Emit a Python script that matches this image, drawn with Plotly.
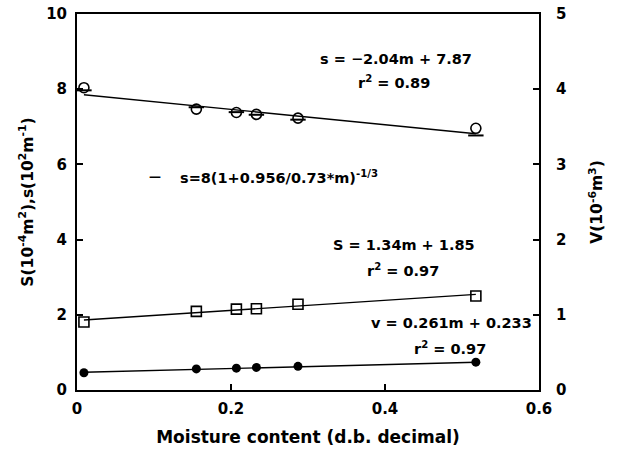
import plotly.graph_objects as go

# ---- data ----
moisture = [0.009, 0.155, 0.207, 0.233, 0.287, 0.518]
s_specific = [8.04, 7.47, 7.38, 7.33, 7.23, 6.96]      # s (10^2 m^-1), open circles
s_model = [7.97, 7.52, 7.39, 7.32, 7.19, 6.77]         # dash markers (model)
S_area = [1.81, 2.09, 2.15, 2.16, 2.28, 2.50]          # S (10^-4 m^2), open squares
V_volume = [0.23, 0.28, 0.29, 0.30, 0.315, 0.37]       # V (10^-6 m^3), filled circles (right axis)

# regression coefficients shown on the chart
s_fit = (-2.04, 7.87)
S_fit = (1.34, 1.85)
v_fit = (0.261, 0.233)

x_ticks = [0, 0.2, 0.4, 0.6]
x_ticktext = ["0", "0.2", "0.4", "0.6"]
y_ticks = [0, 2, 4, 6, 8, 10]
y2_ticks = [0, 1, 2, 3, 4, 5]

FONT = "DejaVu Sans"
fit_x = [moisture[0], moisture[-1]]


def line(coef):
    return [coef[0] * m + coef[1] for m in fit_x]


fig = go.Figure()
lw = 1.4
fig.add_trace(go.Scatter(x=fit_x, y=line(s_fit), mode="lines",
                         line=dict(color="black", width=lw), showlegend=False))
fig.add_trace(go.Scatter(x=fit_x, y=line(S_fit), mode="lines",
                         line=dict(color="black", width=lw), showlegend=False))
fig.add_trace(go.Scatter(x=fit_x, y=line(v_fit), mode="lines", yaxis="y2",
                         line=dict(color="black", width=lw), showlegend=False))
fig.add_trace(go.Scatter(x=moisture, y=s_model, mode="markers",
                         marker=dict(symbol="line-ew", size=11,
                                     line=dict(color="black", width=2)),
                         showlegend=False))
fig.add_trace(go.Scatter(x=moisture, y=s_specific, mode="markers",
                         marker=dict(symbol="circle-open", size=10, color="black",
                                     line=dict(width=1.6)),
                         showlegend=False))
fig.add_trace(go.Scatter(x=moisture, y=S_area, mode="markers",
                         marker=dict(symbol="square-open", size=10, color="black",
                                     line=dict(width=1.6)),
                         showlegend=False))
fig.add_trace(go.Scatter(x=moisture, y=V_volume, mode="markers", yaxis="y2",
                         marker=dict(symbol="circle", size=9, color="black"),
                         showlegend=False))

afont = dict(family=FONT, size=14.5, color="black", weight="bold")


def ann(x, y, text, xanchor="center", size=None):
    f = dict(afont)
    if size:
        f["size"] = size
    fig.add_annotation(x=x, y=y, xref="x", yref="y", text=text, showarrow=False,
                       xanchor=xanchor, yanchor="middle", font=f)


ann(0.414, 8.80, "s = −2.04m + 7.87")
ann(0.412, 8.19, "r<sup>2</sup> = 0.89")
ann(0.101, 5.66, "—", size=12)
ann(0.131, 5.66, "s=8(1+0.956/0.73*m)<sup>-1/3</sup>", xanchor="left")
ann(0.425, 3.86, "S = 1.34m + 1.85")
ann(0.424, 3.19, "r<sup>2</sup> = 0.97")
ann(0.486, 1.78, "v = 0.261m + 0.233")
ann(0.485, 1.12, "r<sup>2</sup> = 0.97")

tfont = dict(family=FONT, size=15, color="black", weight="bold")
axis_common = dict(showgrid=False, zeroline=False, showline=True, linecolor="black",
                   linewidth=2, ticks="inside", ticklen=6, tickwidth=1.5,
                   tickcolor="black", tickfont=tfont, automargin=False,
                   ticklabeloverflow="allow")

fig.update_layout(
    width=620, height=458,
    margin=dict(l=77, r=81, t=14, b=68),
    paper_bgcolor="white", plot_bgcolor="white",
    xaxis=dict(range=[0, 0.6], tickvals=x_ticks, ticktext=x_ticktext,
               mirror=True, ticklabelstandoff=4,
               title=dict(text="Moisture content (d.b. decimal)", standoff=14,
                          font=dict(family=FONT, size=17, color="black", weight="bold")),
               **axis_common),
    yaxis=dict(range=[0, 10], tickvals=y_ticks, mirror=True, ticklabelstandoff=5,
               title=dict(text="S(10<sup>-4</sup>m<sup>2</sup>),s(10<sup>2</sup>m<sup>-1</sup>)",
                          standoff=9,
                          font=dict(family=FONT, size=15.5, color="black", weight="bold")),
               **axis_common),
    yaxis2=dict(range=[0, 5], tickvals=y2_ticks, overlaying="y", side="right",
                ticklabelstandoff=12,
                title=dict(text="V(10<sup>-6</sup>m<sup>3</sup>)", standoff=26,
                           font=dict(family=FONT, size=15.5, color="black", weight="bold")),
                **axis_common),
    showlegend=False,
)

# remove the page's default body margin so the 620x458 figure fills the window
fig.write_html("out.html", config={"displayModeBar": False},
               post_script="document.body.style.margin='0';")
